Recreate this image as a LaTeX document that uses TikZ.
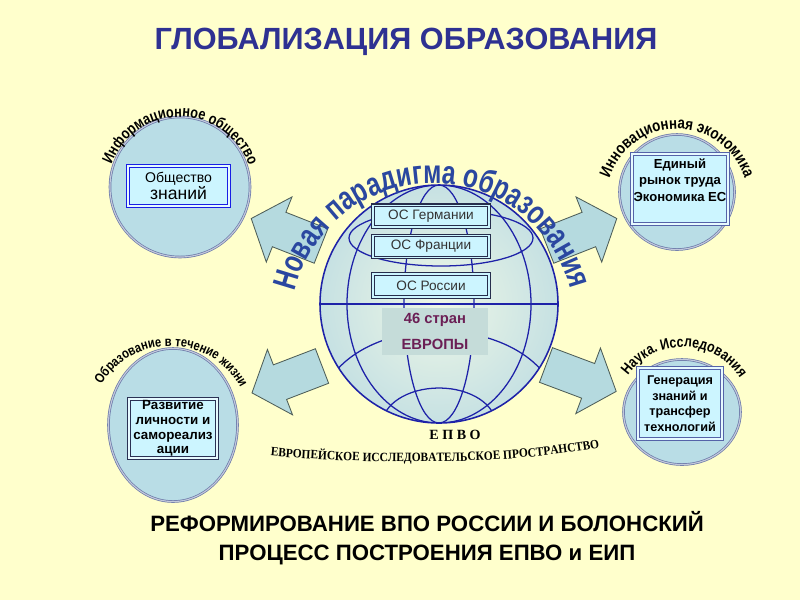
\documentclass[tikz,border=0pt]{standalone}
\usepackage{fontspec}
\setmainfont{Liberation Sans}
\newfontfamily\serifbold{Liberation Serif}
\newfontfamily\condserif[FakeStretch=0.9]{Liberation Serif}
\newfontfamily\arcfont[FakeStretch=0.82]{Liberation Sans}
\newfontfamily\bigarcfont[FakeStretch=0.74]{Liberation Sans}
\usetikzlibrary{shapes.geometric,decorations.text,positioning}

\definecolor{paper}{HTML}{FFFFCC}
\definecolor{titleblue}{HTML}{2E3192}
\definecolor{bubblefill}{HTML}{B9DDE6}
\definecolor{bubbleline}{HTML}{6A78A8}
\definecolor{boxfill}{HTML}{CCF5FF}
\definecolor{boxline}{HTML}{5563A8}
\definecolor{gridblue}{HTML}{1E22A8}
\definecolor{globelight}{HTML}{EEF7E6}
\definecolor{globeedge}{HTML}{C6E1E3}
\definecolor{arrowfill}{HTML}{B5DADF}
\definecolor{arrowline}{HTML}{4E5E58}
\definecolor{wordblue}{HTML}{2A47A0}
\definecolor{europurple}{HTML}{6B1F55}
\definecolor{eurofill}{HTML}{C5DCD9}

\begin{document}
\begin{tikzpicture}[x=0.025cm, y=0.025cm,
  bubble/.style={ellipse, draw=bubbleline, double=white!60!bubbleline, double distance=0.8pt, line width=0.5pt, fill=bubblefill, inner sep=0pt},
  infobox/.style={rectangle, draw=boxline, double=boxfill!50!white, double distance=0.9pt, line width=0.8pt, fill=boxfill, inner sep=1pt, align=center},
  osbox/.style={rectangle, draw=black!55!boxline, double=boxfill, double distance=0.9pt, line width=0.8pt, fill=boxfill, minimum width=2.9cm, font=\fontsize{9.7}{11}\selectfont, text=black!80},
  gridline/.style={draw=gridblue, line width=0.9pt},
  arcword/.style={decorate, decoration={text along path, text align=center, text={#1}}},
  blockarrow/.pic={\draw[draw=arrowline, fill=arrowfill, line width=0.6pt] (0,18.5) -- (45,18.5) -- (45,35) -- (75,0) -- (45,-35) -- (45,-18.5) -- (0,-18.5) -- cycle;},
]
\useasboundingbox (0,0) rectangle (800,-600);
\fill[paper] (0,0) rectangle (800,-600);

% title
\node[font=\bfseries\fontsize{21.8}{26}\selectfont, text=titleblue] (title) at (406,-42) {ГЛОБАЛИЗАЦИЯ ОБРАЗОВАНИЯ};

% four bubbles
\node[bubble, minimum width=3.5cm, minimum height=3.5cm] (infosoc) at (180,-187) {};
\node[bubble, minimum width=2.875cm, minimum height=2.875cm] (innoecon) at (677,-192) {};
\node[bubble, minimum width=3.225cm, minimum height=3.825cm] (lifelong) at (173,-425) {};
\node[bubble, minimum width=2.925cm, minimum height=2.625cm] (science) at (682,-412) {};

\node[infobox, draw=blue!70!boxline, minimum width=2.525cm, minimum height=1cm, font=\fontsize{10}{12}\selectfont] (knowledge) at (178.5,-186) {Общество\\{\fontsize{12.5}{14}\selectfont знаний}};
\node[infobox, minimum width=2.4cm, minimum height=1.75cm] (labour) at (680,-189) {};
\node[below=0pt of labour.north, align=center, font=\bfseries\fontsize{9.3}{11.8}\selectfont] (labourtext) {Единый\\рынок труда\\Экономика ЕС};
\node[infobox, draw=black!50!boxline, minimum width=2.2cm, minimum height=1.475cm, font=\bfseries\fontsize{9.5}{10.5}\selectfont] (selfreal) at (173,-428.5) {Развитие\\личности и\\самореализ\\ации};
\node[infobox, minimum width=2.1cm, minimum height=1.775cm, font=\bfseries\fontsize{9}{11}\selectfont] (transfer) at (680,-403.5) {Генерация\\знаний и\\трансфер\\технологий};

% words round the bubbles
\path[arcword={|\arcfont\bfseries\fontsize{11}{13}\selectfont|Информационное общество}] (180,-190) ++(162:73) arc[start angle=162, end angle=17, radius=73];
\path[arcword={|\arcfont\bfseries\fontsize{11.5}{13}\selectfont|Инновационная экономика}] (677,-200) ++(166:71) arc[start angle=166, end angle=14, radius=71];
\path[arcword={|\arcfont\bfseries\fontsize{9.7}{12}\selectfont|Образование в течение жизни}] (170,-420) ++(155:78 and 74) arc[start angle=155, end angle=22, x radius=78, y radius=74];
\path[arcword={|\arcfont\bfseries\fontsize{10.7}{12}\selectfont|Наука. Исследования}] (683,-415) ++(146.5:68) arc[start angle=146.5, end angle=30.7, radius=68];

% block arrows
\pic[rotate=158.5] at (321,-246) {blockarrow};
\pic[rotate=21.5] at (547,-246) {blockarrow};
\pic[rotate=201] at (322,-366) {blockarrow};
\pic[rotate=-20.6] at (546,-365) {blockarrow};

% globe
\node[circle, minimum size=5.95cm, inner sep=0pt, inner color=globelight, outer color=globeedge] (globe) at (439,-304) {};
\begin{scope}
  \clip (globe.center) circle[radius=119];
  \draw[gridline] (globe.center) ellipse[x radius=35, y radius=119];
  \draw[gridline] (globe.center) ellipse[x radius=92, y radius=119];
  \draw[gridline] (441,-238) ellipse[x radius=92, y radius=28];
  \draw[gridline] (439,-409) ellipse[x radius=118, y radius=78];
  \draw[gridline] (439,-425) ellipse[x radius=57, y radius=37];
\end{scope}
\draw[gridline] (globe.west) -- (globe.east);
\draw[gridline, line width=1.1pt] (globe.center) circle[radius=119];

\node[osbox, minimum height=0.5cm] (osde) at (431,-216) {ОС Германии};
\node[osbox, minimum height=0.53cm] (osfr) at (431,-246.5) {ОС Франции};
\node[osbox, minimum height=0.57cm] (osru) at (431,-285.5) {ОС России};
\node[fill=eurofill, minimum width=2.65cm, minimum height=1.175cm, align=center, text=europurple, font=\bfseries\fontsize{10.5}{18.5}\selectfont] (europe) at (435,-331.5) {46 стран\\ЕВРОПЫ};

\path[arcword={|\color{wordblue}\bigarcfont\bfseries\fontsize{23.5}{28}\selectfont|Новая парадигма образования}] (433,-325) ++(171:142) arc[start angle=171, end angle=10, radius=142];

% under the globe
\node[font=\serifbold\bfseries\fontsize{10}{11}\selectfont] (epvo) at (455,-435) {Е П В О};
\path[arcword={|\condserif\bfseries\fontsize{9}{11}\selectfont|ЕВРОПЕЙСКОЕ ИССЛЕДОВАТЕЛЬСКОЕ ПРОСТРАНСТВО}] (272,-456) .. controls (360,-464) and (500,-466) .. (598,-448);

\node[font=\bfseries\fontsize{15.8}{20.6}\selectfont, align=center] (reform) at (427,-538.5) {РЕФОРМИРОВАНИЕ ВПО РОССИИ И БОЛОНСКИЙ\\ПРОЦЕСС ПОСТРОЕНИЯ ЕПВО и ЕИП};
\end{tikzpicture}
\end{document}
